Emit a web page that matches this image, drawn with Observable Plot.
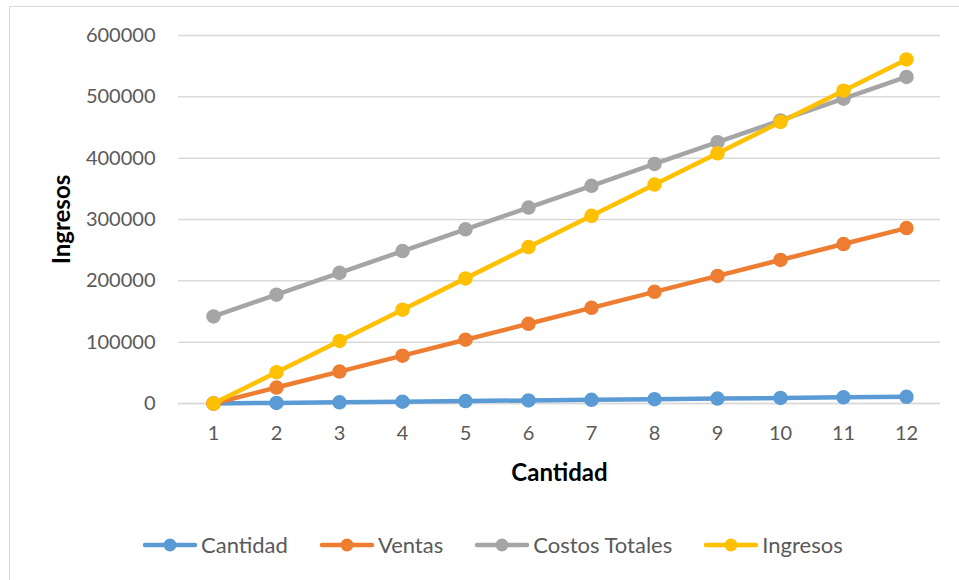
<!DOCTYPE html>
<html>
<head>
<meta charset="utf-8">
<script src="https://cdn.jsdelivr.net/npm/d3@7"></script>
<script src="https://cdn.jsdelivr.net/npm/@observablehq/plot@0.6"></script>
<style>
  html, body { margin: 0; padding: 0; background: #fff; }
  body { width: 959px; height: 580px; position: relative; overflow: hidden; font-family: Lato, "Open Sans", sans-serif; }
  #frame { position: absolute; left: 9px; top: 6px; width: 970px; height: 600px; border: 1.5px solid #d9d9d9; box-sizing: border-box; }
  #chart { position: absolute; left: 0; top: 0; }
  #legend { position: absolute; left: 142px; top: 531px; display: flex; align-items: center; font-size: 22px; color: #595959; }
  .item { display: flex; align-items: center; margin-right: 31px; }
  .item svg { margin-right: 3px; }
</style>
</head>
<body>
<div id="frame"></div>
<div id="chart"></div>
<div id="legend"></div>
<script>
const cantidadX = [1, 2, 3, 4, 5, 6, 7, 8, 9, 10, 11, 12];
const seriesNames = ["Cantidad", "Ventas", "Costos Totales", "Ingresos"];
const seriesColors = ["#5B9BD5", "#ED7D31", "#A5A5A5", "#FFC000"];
const cantidad = [0, 1000, 2000, 3000, 4000, 5000, 6000, 7000, 8000, 9000, 10000, 11000];
const ventas = [0, 26000, 52000, 78000, 104000, 130000, 156000, 182000, 208000, 234000, 260000, 286000];
const costosTotales = [142000, 177500, 213000, 248500, 284000, 319500, 355000, 390500, 426000, 461500, 497000, 532500];
const ingresos = [0, 51000, 102000, 153000, 204000, 255000, 306000, 357000, 408000, 459000, 510000, 561000];
const yTicks = [0, 100000, 200000, 300000, 400000, 500000, 600000];

const seriesValues = [cantidad, ventas, costosTotales, ingresos];
const tables = seriesValues.map((vals, si) =>
  cantidadX.map((x, i) => ({x, y: vals[i], serie: seriesNames[si]}))
);

const marks = [
  Plot.gridY(yTicks, {stroke: "#d9d9d9", strokeOpacity: 1, strokeWidth: 1.5}),
  Plot.axisY(yTicks, {tickSize: 0, tickPadding: 23, tickFormat: d => String(d), fontSize: 20, fill: "#595959", label: null}),
  Plot.axisX(cantidadX, {tickSize: 0, tickPadding: 22, fontSize: 20, fill: "#595959", label: null}),
  Plot.ruleY([0], {stroke: "#d9d9d9", strokeWidth: 1.5}),
  Plot.text(["Ingresos"], {frameAnchor: "left", textAnchor: "middle", lineAnchor: "middle", dx: -116, rotate: -90, fontSize: 24, fontWeight: "bold", fill: "#000"}),
  Plot.text(["Cantidad"], {frameAnchor: "bottom", textAnchor: "middle", lineAnchor: "middle", dy: 70, fontSize: 24, fontWeight: "bold", fill: "#000"})
];
tables.forEach((t, si) => {
  marks.push(Plot.line(t, {x: "x", y: "y", stroke: seriesColors[si], strokeWidth: 4.5, strokeLinejoin: "round", strokeLinecap: "round"}));
  marks.push(Plot.dot(t, {x: "x", y: "y", r: 6.5, fill: seriesColors[si], stroke: seriesColors[si]}));
});

const chart = Plot.plot({
  width: 959,
  height: 500,
  marginLeft: 178,
  marginRight: 19,
  marginTop: 35,
  marginBottom: 97,
  style: {fontFamily: "Lato, 'Open Sans', sans-serif", background: "transparent", overflow: "visible"},
  x: {type: "point", domain: cantidadX, padding: 0.5, axis: null},
  y: {domain: [0, 600000], axis: null},
  marks
});
document.getElementById("chart").appendChild(chart);

const legend = document.getElementById("legend");
seriesNames.forEach((name, i) => {
  const item = document.createElement("div");
  item.className = "item";
  item.innerHTML = `<svg width="56" height="20"><line x1="3" y1="10" x2="53" y2="10" stroke="${seriesColors[i]}" stroke-width="4.5" stroke-linecap="round"/><circle cx="28" cy="10" r="6.5" fill="${seriesColors[i]}"/></svg><span>${name}</span>`;
  legend.appendChild(item);
});
</script>
</body>
</html>
